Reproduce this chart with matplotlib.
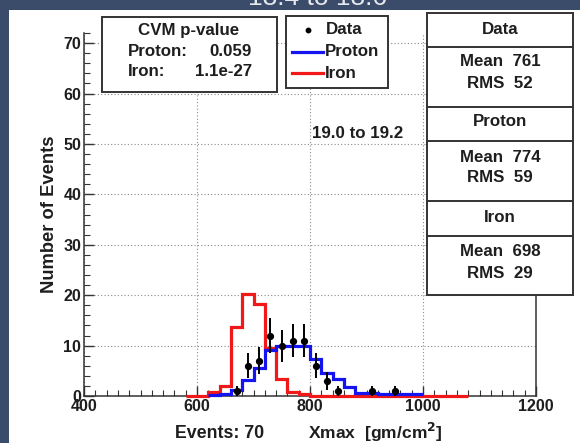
import numpy as np
import matplotlib
matplotlib.use("Agg")
import matplotlib.pyplot as plt
from matplotlib.patches import Rectangle
from matplotlib.lines import Line2D
from matplotlib.ticker import MultipleLocator

plt.rcParams["font.family"] = ["Liberation Sans", "DejaVu Sans"]

W, H = 580, 443

# Xmax histograms, 20 gm/cm^2 bins
iron_edges = np.arange(580, 1081, 20)
iron_counts = [0, 0, 0.85, 2.0, 13.7, 20.2, 18.2, 9.6, 3.3, 0.85, 0.3,
               0, 0, 0, 0, 0, 0, 0, 0, 0, 0, 0, 0, 0, 0]
proton_edges = np.arange(620, 1001, 20)
proton_counts = [0.2, 0.4, 1.2, 3.2, 5.5, 9.2, 10, 10, 10, 7.4, 4.6, 3.4,
                 1.8, 0.6, 0.6, 0.3, 0.3, 0.3, 0.3]
data_x = [670, 690, 710, 730, 750, 770, 790, 810, 830, 850, 910, 950]
data_n = [1, 6, 7, 12, 10, 11, 11, 6, 3, 1, 1, 1]

cvm_rows = [("Proton:", "0.059"), ("Iron:", "1.1e-27")]
stats = [("Data", 761, 52), ("Proton", 774, 59), ("Iron", 698, 29)]
energy_bin = "19.0 to 19.2"
slide_title = "18.4 to 18.6"

INK = "#1e1e1e"
RED = "#f01818"
BLUE = "#1414f0"


def fx(x):
    return x / W


def fy(y):
    return 1 - y / H


fig = plt.figure(figsize=(W / 100, H / 100), dpi=100, facecolor="#3a4c69")
fig.patches.append(Rectangle((fx(9), 0), fx(W - 9), fy(10), transform=fig.transFigure,
                             facecolor="white", edgecolor="none", zorder=-5))
fig.text(fx(318), fy(5), slide_title, color="#e6e8ee", fontsize=19,
         ha="center", va="baseline", zorder=-4)

ax = fig.add_axes([fx(84), fy(396), fx(536 - 84), fy(33) - fy(396)])
ax.set_facecolor("none")
ax.set_xlim(400, 1200)
ax.set_ylim(0, 72)

ax.stairs(iron_counts, iron_edges, color=RED, lw=2.3, baseline=None, zorder=3,
          clip_on=False)
ax.stairs(proton_counts, proton_edges, color=BLUE, lw=2.3, baseline=None, zorder=4,
          clip_on=False)
ax.errorbar(data_x, data_n, yerr=np.sqrt(data_n), fmt="o", ms=4.2, color="black",
            ecolor="black", elinewidth=1.4, capsize=0, zorder=5, clip_on=False)

ax.xaxis.set_major_locator(MultipleLocator(200))
ax.xaxis.set_minor_locator(MultipleLocator(20))
ax.yaxis.set_minor_locator(MultipleLocator(2))
ax.set_yticks([0, 10, 20, 30, 40, 50, 60, 70])
ax.tick_params(which="both", direction="in", top=False, right=False, color="#333333",
               labelsize=11.5, pad=2)
ax.tick_params(which="major", length=7, width=1)
ax.tick_params(which="minor", length=4, width=0.8)
for lab in ax.get_xticklabels() + ax.get_yticklabels():
    lab.set_fontweight("bold")
    lab.set_color(INK)
ax.grid(True, which="major", color="#8a8a8a", lw=0.8, ls=(0, (1, 2)))
ax.spines["top"].set_visible(False)
for side in ("left", "bottom", "right"):
    ax.spines[side].set_color("#333333")
    ax.spines[side].set_linewidth(1.1)
ax.set_axisbelow(True)

ax.set_ylabel("Number of Events", fontsize=13.2, fontweight="bold", color=INK,
              labelpad=4)
fig.text(fx(175), fy(433), "Events: 70", fontsize=12.8, fontweight="bold",
         color=INK, va="center", ha="left")
fig.text(fx(308), fy(432), r"Xmax  [gm/cm$^{\mathbf{2}}$]", fontsize=12.6,
         fontweight="bold", color=INK, va="center", ha="left")
fig.text(fx(312), fy(133), energy_bin, fontsize=12.2, fontweight="bold",
         color=INK, va="center", ha="left", zorder=6)


def box(x0, y0, x1, y1):
    fig.patches.append(Rectangle((fx(x0), fy(y1)), fx(x1 - x0), fy(y0) - fy(y1),
                                 transform=fig.transFigure, facecolor="white",
                                 edgecolor="#333333", lw=1.4, zorder=5))


def hline(x0, x1, y):
    fig.lines.append(Line2D([fx(x0), fx(x1)], [fy(y), fy(y)], transform=fig.transFigure,
                            color="#333333", lw=1.4, zorder=6))


txt = dict(fontsize=12.2, fontweight="bold", color=INK, va="center", zorder=7)

# CVM p-value box
box(102, 17, 277, 92)
fig.text(fx(189), fy(30), "CVM p-value", ha="center", **txt)
for i, (name, val) in enumerate(cvm_rows):
    yy = 51 + 20.5 * i
    fig.text(fx(128), fy(yy), name, ha="left", **txt)
    fig.text(fx(252), fy(yy), val, ha="right", **txt)

# legend box
box(286, 16, 388, 88)
fig.lines.append(Line2D([fx(308)], [fy(30)], marker="o", ms=3.2, color="black",
                        transform=fig.transFigure, zorder=7))
fig.text(fx(326), fy(30), "Data", ha="left", **txt)
for yy, col, name in ((52, BLUE, "Proton"), (73, RED, "Iron")):
    fig.lines.append(Line2D([fx(292), fx(323)], [fy(yy), fy(yy)], color=col, lw=2.3,
                            transform=fig.transFigure, zorder=7))
    fig.text(fx(325), fy(yy), name, ha="left", **txt)

# statistics box
box(427, 13, 573, 295)
for yy in (47, 107, 141, 201, 236):
    hline(427, 573, yy)
heads = (30, 122, 218)
means = (62, 157, 252)
for (name, mean, rms), yh, ym in zip(stats, heads, means):
    fig.text(fx(500), fy(yh), name, ha="center", **txt)
    fig.text(fx(500), fy(ym), f"Mean  {mean}", ha="center", **txt)
    fig.text(fx(500), fy(ym + 21), f"RMS  {rms}", ha="center", **txt)

fig.savefig("out.png", dpi=100, facecolor=fig.get_facecolor())
